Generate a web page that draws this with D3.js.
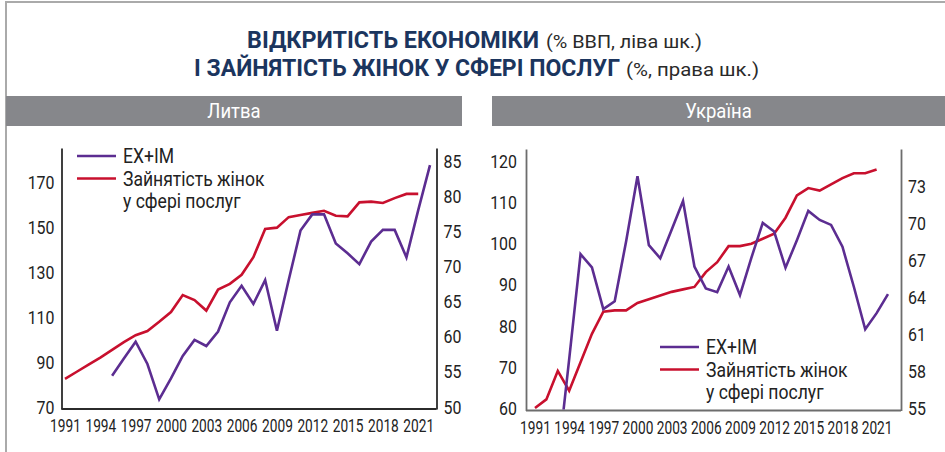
<!DOCTYPE html>
<html>
<head>
<meta charset="utf-8">
<script src="https://cdn.jsdelivr.net/npm/d3@7/dist/d3.min.js"></script>
<style>
body { margin: 0; background: #fff; }
svg { display: block; font-family: Roboto, "DejaVu Sans Condensed", sans-serif; }
</style>
</head>
<body>
<svg></svg>
<script>
const years = [1991, 1992, 1993, 1994, 1995, 1996, 1997, 1998, 1999, 2000, 2001, 2002, 2003, 2004, 2005, 2006,
    2007, 2008, 2009, 2010, 2011, 2012, 2013, 2014, 2015, 2016, 2017, 2018, 2019, 2020, 2021, 2022];
const yearTicks = [1991, 1994, 1997, 2000, 2003, 2006, 2009, 2012, 2015, 2018, 2021];

// Литва
const ltTrade = [null, null, null, null, 84.8, 92.4, 99.9, 90, 74.3, 83.6, 93.6, 100.7, 98, 104.4, 117.4, 124.8,
    116.7, 127.3, 104.8, 127.3, 149.3, 156.5, 156.5, 143.6, 139.2, 134.4, 144.4, 149.6, 149.6, 137.4, 158.4, 178.4];
const ltWomen = [54.3, 55.3, 56.3, 57.3, 58.4, 59.5, 60.5, 61.1, 62.4, 63.8, 66.2, 65.5, 64.0, 67.0, 67.8, 69.1,
    71.6, 75.6, 75.8, 77.3, 77.6, 77.9, 78.2, 77.5, 77.4, 79.4, 79.5, 79.3, 80.0, 80.6, 80.6, null];
const ltLeftTicks = [70, 90, 110, 130, 150, 170];
const ltRightTicks = [50, 55, 60, 65, 70, 75, 80, 85];

// Україна
const uaTrade = [null, null, 47.5, 72.4, 97.9, 94.7, 84.6, 86.5, 101, 116.8, 100.1, 96.9, 103.8, 110.8, 94.9, 89.6,
    88.7, 94.9, 88.0, 97.0, 105.5, 103.4, 94.6, 101.3, 108.4, 106.2, 105.0, 99.7, 90.0, 79.7, 83.6, 88.2];
const uaWomen = [55.2, 55.9, 58.2, 56.6, 58.9, 61.2, 63.0, 63.1, 63.1, 63.7, 64.0, 64.3, 64.6, 64.8, 65.0, 66.2,
    67.0, 68.3, 68.3, 68.5, 68.9, 69.3, 70.6, 72.4, 73.0, 72.8, 73.3, 73.8, 74.2, 74.2, 74.5, null];
const uaLeftTicks = [60, 70, 80, 90, 100, 110, 120];
const uaRightTicks = [55, 58, 61, 64, 67, 70, 73];

const legendLabels = ['EX+IM', 'Зайнятість жінок', 'у сфері послуг'];
const colors = {trade: '#5c2d91', women: '#c8102e'};

// the original uses a narrow typeface, so squeeze text horizontally
function squeeze(sel, k) {
    sel.each(function() {
        const w = this.getComputedTextLength();
        d3.select(this)
            .attr('textLength', w * k)
            .attr('lengthAdjust', 'spacingAndGlyphs');
    });
}

const svg = d3.select('svg')
    .attr('width', 945)
    .attr('height', 452);

// frame
svg.append('path')
    .attr('d', 'M6,452V2H945')
    .attr('fill', 'none')
    .attr('stroke', '#aaa')
    .attr('stroke-width', 2);

const titleParts = [
    {text: 'ВІДКРИТІСТЬ ЕКОНОМІКИ', bold: true, x: 247, y: 48, w: 292},
    {text: '(% ВВП, ліва шк.)', bold: false, x: 546, y: 48, w: 156},
    {text: 'І ЗАЙНЯТІСТЬ ЖІНОК У СФЕРІ ПОСЛУГ', bold: true, x: 194, y: 76, w: 426},
    {text: '(%, права шк.)', bold: false, x: 626, y: 76, w: 133}
];
svg.append('g').selectAll('text')
    .data(titleParts)
    .join('text')
    .attr('x', d => d.x)
    .attr('y', d => d.y)
    .attr('font-weight', d => d.bold ? 'bold' : 'normal')
    .attr('font-size', d => d.bold ? 23 : 19)
    .attr('fill', d => d.bold ? '#1b355e' : '#2a2a2a')
    .attr('textLength', d => d.w)
    .attr('lengthAdjust', 'spacingAndGlyphs')
    .text(d => d.text);

const panels = [
    {
        name: 'Литва', bar: [6, 462], axisX: [61.5, 436.5], xRange: [65, 430], top: 148, bottom: 409,
        left: {domain: [70, 186], ticks: ltLeftTicks}, right: {domain: [50, 87.13], ticks: ltRightTicks},
        trade: ltTrade, women: ltWomen, axisColor: '#2b2b2b', legend: [77, 156]
    },
    {
        name: 'Україна', bar: [492, 945], axisX: [526, 901], xRange: [535, 888], top: 149, bottom: 410.5,
        left: {domain: [60, 123.4], ticks: uaLeftTicks}, right: {domain: [55, 76.16], ticks: uaRightTicks},
        trade: uaTrade, women: uaWomen, axisColor: '#6d6d6d', legend: [660, 347]
    }
];

panels.forEach((p, i) => {
    const g = svg.append('g');

    g.append('rect')
        .attr('x', p.bar[0])
        .attr('y', 96)
        .attr('width', p.bar[1] - p.bar[0])
        .attr('height', 30)
        .attr('fill', '#86878b');
    g.append('text')
        .attr('x', (p.bar[0] + p.bar[1]) / 2)
        .attr('y', 118)
        .attr('text-anchor', 'middle')
        .attr('font-size', 21)
        .attr('fill', '#fff')
        .text(p.name)
        .call(squeeze, 0.88);

    const x = d3.scaleLinear().domain([1991, 2022]).range(p.xRange);
    const yL = d3.scaleLinear().domain(p.left.domain).range([p.bottom, p.top]);
    const yR = d3.scaleLinear().domain(p.right.domain).range([p.bottom, p.top]);

    const axisL = g.append('g')
        .attr('transform', `translate(${p.axisX[0]},0)`)
        .call(d3.axisLeft(yL).tickValues(p.left.ticks).tickSize(0).tickSizeOuter(0).tickPadding(i === 0 ? 7 : 9));
    const axisR = g.append('g')
        .attr('transform', `translate(${p.axisX[1]},0)`)
        .call(d3.axisRight(yR).tickValues(p.right.ticks).tickSize(0).tickSizeOuter(0).tickPadding(7));
    const axisB = g.append('g')
        .attr('transform', `translate(0,${p.bottom})`)
        .call(d3.axisBottom(x).tickValues(yearTicks).tickFormat(d3.format('d')).tickSize(0).tickPadding(10));
    axisB.select('.domain').remove();

    [axisL, axisR].forEach(a => {
        a.select('.domain').attr('stroke', p.axisColor).attr('stroke-width', 1.8);
        a.selectAll('text').attr('dy', '0.22em');
    });
    [axisL, axisR, axisB].forEach(a => {
        a.attr('font-family', null);
        a.selectAll('text').attr('font-size', 18.5).attr('fill', '#222');
    });
    axisL.selectAll('text').call(squeeze, 0.86);
    axisR.selectAll('text').call(squeeze, 0.86);
    axisB.selectAll('text').call(squeeze, 0.74);

    g.append('line')
        .attr('x1', p.axisX[0])
        .attr('x2', p.axisX[1])
        .attr('y1', p.bottom)
        .attr('y2', p.bottom)
        .attr('stroke', p.axisColor)
        .attr('stroke-width', 1.8);

    const clipId = 'clip' + i;
    g.append('clipPath')
        .attr('id', clipId)
        .append('rect')
        .attr('x', p.axisX[0])
        .attr('y', p.top - 10)
        .attr('width', p.axisX[1] - p.axisX[0])
        .attr('height', p.bottom - p.top + 9);

    const plot = g.append('g').attr('clip-path', `url(#${clipId})`);

    const lineL = d3.line()
        .defined(d => d[1] != null)
        .x(d => x(d[0]))
        .y(d => yL(d[1]));
    const lineR = d3.line()
        .defined(d => d[1] != null)
        .x(d => x(d[0]))
        .y(d => yR(d[1]));

    plot.append('path')
        .datum(years.map((yr, k) => [yr, p.women[k]]))
        .attr('d', lineR)
        .attr('fill', 'none')
        .attr('stroke', colors.women)
        .attr('stroke-width', 2.6);
    plot.append('path')
        .datum(years.map((yr, k) => [yr, p.trade[k]]))
        .attr('d', lineL)
        .attr('fill', 'none')
        .attr('stroke', colors.trade)
        .attr('stroke-width', 2.6);

    const lg = g.append('g')
        .attr('transform', `translate(${p.legend[0]},${p.legend[1]})`);
    [[colors.trade, 0], [colors.women, 22.5]].forEach(([c, dy]) => {
        lg.append('line')
            .attr('x1', 0).attr('x2', 39)
            .attr('y1', dy).attr('y2', dy)
            .attr('stroke', c)
            .attr('stroke-width', 2.6);
    });
    lg.selectAll('text')
        .data(legendLabels)
        .join('text')
        .attr('x', 46)
        .attr('y', (d, k) => k * 22.5)
        .attr('dy', '0.36em')
        .attr('font-size', 19.5)
        .attr('fill', '#222')
        .text(d => d)
        .call(squeeze, 0.9);
});
</script>
</body>
</html>
